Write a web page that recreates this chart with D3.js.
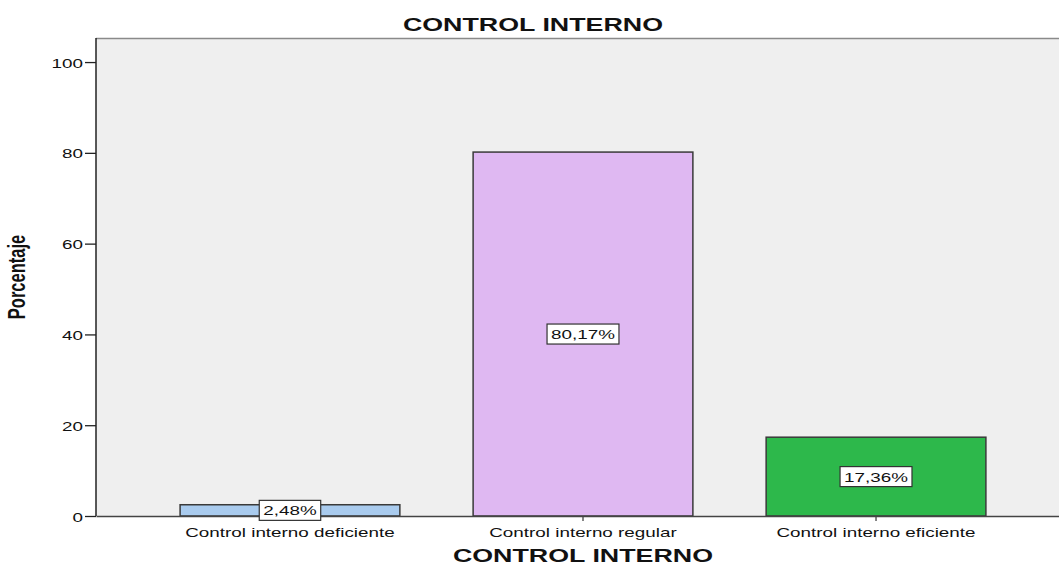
<html>
<head>
<script src="https://d3js.org/d3.v7.min.js"></script>
<style>
  body { margin: 0; background: #ffffff; }
  text { font-family: Arial, "Liberation Sans", sans-serif; }
</style>
</head>
<body>
<svg width="1059" height="567"></svg>
<script>
// chart data
var categories = ['Control interno deficiente', 'Control interno regular', 'Control interno eficiente'];
var percentages = [2.48, 80.17, 17.36];
var valueLabels = ['2,48%', '80,17%', '17,36%'];
var barColors = ['#a9cbee', '#dfb8f2', '#2db84b'];
var yTicks = [0, 20, 40, 60, 80, 100];
var chartTitle = 'CONTROL INTERNO';
var xTitle = 'CONTROL INTERNO';
var yTitle = 'Porcentaje';

var stretch = 1.45;   // the picture is widened horizontally
var plotLeft = 96, plotRight = 1070, plotTop = 38, plotBottom = 516;

var svg = d3.select('svg');

var x = d3.scaleBand().domain(categories).range([plotLeft, plotRight])
  .paddingInner(0.25).paddingOuter(0.287);
var y = d3.scaleLinear().domain([0, 105.3]).range([plotBottom, plotTop]);

// plot background
svg.append('rect')
  .attr('x', plotLeft).attr('y', plotTop)
  .attr('width', plotRight - plotLeft).attr('height', plotBottom - plotTop)
  .style('fill', '#efefef');
svg.append('line')
  .attr('x1', plotLeft).attr('x2', plotRight).attr('y1', plotTop + 0.5).attr('y2', plotTop + 0.5)
  .style('stroke', '#8a8a8a').style('stroke-width', 1.5);

// bars
svg.append('g').selectAll('rect')
  .data(percentages).enter().append('rect')
  .attr('x', function (d, i) { return x(categories[i]); })
  .attr('y', function (d) { return y(d); })
  .attr('width', x.bandwidth())
  .attr('height', function (d) { return y(0) - y(d); })
  .style('fill', function (d, i) { return barColors[i]; })
  .style('stroke', '#3a3a3a')
  .style('stroke-width', 1.5);

// y axis
var yAxis = svg.append('g')
  .attr('transform', 'translate(' + plotLeft + ',0)')
  .call(d3.axisLeft(y).tickValues(yTicks).tickSize(11).tickPadding(2).tickFormat(d3.format('d')));
yAxis.select('.domain').remove();
yAxis.selectAll('line').style('stroke', '#222').style('stroke-width', 1.3);
yAxis.selectAll('text')
  .attr('x', null).attr('dy', null)
  .attr('transform', 'translate(-13,5) scale(' + stretch + ',1)')
  .style('font-size', '13px').style('fill', '#111');
svg.append('line')
  .attr('x1', plotLeft).attr('x2', plotLeft).attr('y1', plotTop).attr('y2', plotBottom)
  .style('stroke', '#222').style('stroke-width', 1.5);

// x axis
var xAxis = svg.append('g')
  .attr('transform', 'translate(0,' + plotBottom + ')')
  .call(d3.axisBottom(x).tickSize(5).tickSizeOuter(0));
xAxis.select('.domain').style('stroke', '#444').style('stroke-width', 1.5);
xAxis.selectAll('line').style('stroke', '#444').style('stroke-width', 1.3);
xAxis.selectAll('text')
  .attr('y', null).attr('dy', null)
  .attr('transform', 'translate(0,21) scale(' + stretch + ',1)')
  .style('font-size', '13px').style('fill', '#111');

// value labels in boxes
var labels = svg.append('g').selectAll('g')
  .data(percentages).enter().append('g')
  .attr('transform', function (d, i) {
    return 'translate(' + (x(categories[i]) + x.bandwidth() / 2) + ',' + y(d / 2) + ')';
  });
labels.append('text')
  .attr('text-anchor', 'middle')
  .attr('y', 5)
  .attr('transform', 'scale(' + stretch + ',1)')
  .style('font-size', '13px').style('fill', '#111')
  .text(function (d, i) { return valueLabels[i]; });
labels.each(function () {
  var g = d3.select(this);
  var w = g.select('text').node().getComputedTextLength() * stretch + 8;
  g.insert('rect', 'text')
    .attr('x', -w / 2).attr('y', -10)
    .attr('width', w).attr('height', 20)
    .style('fill', '#ffffff').style('stroke', '#333').style('stroke-width', 1.2);
});

// titles
svg.append('text')
  .attr('text-anchor', 'middle')
  .attr('transform', 'translate(533,31) scale(' + stretch + ',1)')
  .style('font-size', '18.5px').style('font-weight', 'bold').style('fill', '#111')
  .text(chartTitle);

svg.append('text')
  .attr('text-anchor', 'middle')
  .attr('transform', 'translate(' + ((plotLeft + plotRight) / 2) + ',562) scale(' + stretch + ',1)')
  .style('font-size', '18.5px').style('font-weight', 'bold').style('fill', '#111')
  .text(xTitle);

svg.append('text')
  .attr('text-anchor', 'middle')
  .attr('transform', 'translate(25,' + ((plotTop + plotBottom) / 2) + ') scale(' + stretch + ',1) rotate(-90)')
  .style('font-size', '16.5px').style('font-weight', 'bold').style('fill', '#111')
  .text(yTitle);
</script>
</body>
</html>
